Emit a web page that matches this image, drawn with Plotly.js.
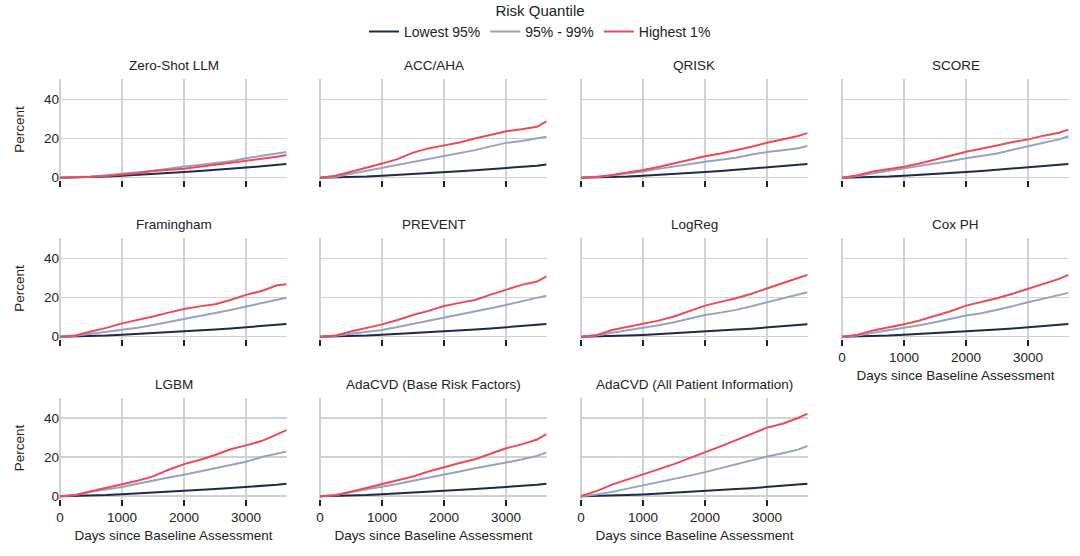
<!DOCTYPE html>
<html>
<head>
<meta charset="utf-8">
<script src="https://cdn.plot.ly/plotly-3.0.1.min.js"></script>
<style>
  html, body { margin: 0; padding: 0; background: #fff; }
  #chart { width: 1080px; height: 556px; }
</style>
</head>
<body>
<div id="chart"></div>
<script>
// days since baseline, shared by every panel
var days = [0, 250, 500, 750, 1000, 1250, 1500, 1750, 2000, 2250, 2500, 2750, 3000, 3250, 3500, 3650];

var models = ["Zero-Shot LLM", "ACC/AHA", "QRISK", "SCORE",
              "Framingham", "PREVENT", "LogReg", "Cox PH",
              "LGBM", "AdaCVD (Base Risk Factors)", "AdaCVD (All Patient Information)"];

var seriesNames = ["Lowest 95%", "95% - 99%", "Highest 1%"];

// cumulative percent, one row per model (same order as models)
var lowest95 = [
  [0, 0.1, 0.3, 0.6, 1.0, 1.4, 1.9, 2.4, 2.9, 3.4, 3.9, 4.5, 5.2, 5.8, 6.5, 7.0],
  [0, 0.1, 0.3, 0.6, 1.0, 1.4, 1.8, 2.3, 2.8, 3.3, 3.8, 4.3, 4.9, 5.5, 6.1, 6.7],
  [0, 0.1, 0.3, 0.6, 1.0, 1.4, 1.9, 2.4, 2.9, 3.4, 4.0, 4.6, 5.2, 5.8, 6.4, 7.0],
  [0, 0.1, 0.3, 0.6, 1.0, 1.4, 1.9, 2.4, 2.9, 3.4, 4.0, 4.6, 5.2, 5.8, 6.4, 7.0],
  [0, 0.1, 0.3, 0.6, 1.0, 1.4, 1.8, 2.2, 2.7, 3.2, 3.7, 4.2, 4.8, 5.3, 5.9, 6.5],
  [0, 0.1, 0.3, 0.6, 1.0, 1.4, 1.8, 2.2, 2.7, 3.2, 3.7, 4.2, 4.8, 5.3, 5.9, 6.5],
  [0, 0.1, 0.3, 0.6, 0.9, 1.3, 1.7, 2.1, 2.6, 3.1, 3.6, 4.1, 4.7, 5.2, 5.8, 6.3],
  [0, 0.1, 0.3, 0.6, 1.0, 1.4, 1.8, 2.2, 2.7, 3.2, 3.7, 4.2, 4.8, 5.3, 5.9, 6.5],
  [0, 0.1, 0.3, 0.6, 1.0, 1.4, 1.8, 2.2, 2.7, 3.2, 3.7, 4.2, 4.7, 5.2, 5.8, 6.4],
  [0, 0.1, 0.3, 0.6, 1.0, 1.4, 1.8, 2.2, 2.7, 3.2, 3.7, 4.2, 4.7, 5.2, 5.8, 6.4],
  [0, 0.1, 0.3, 0.6, 0.9, 1.3, 1.7, 2.1, 2.6, 3.1, 3.6, 4.1, 4.7, 5.2, 5.8, 6.3]
];

var mid95to99 = [
  [0, 0.2, 0.6, 1.2, 1.9, 2.6, 3.5, 4.5, 5.7, 6.5, 7.4, 8.4, 9.9, 11.0, 12.2, 13.1],
  [0, 0.5, 2.0, 3.5, 5.0, 6.6, 8.2, 9.6, 11.2, 12.6, 14.1, 16.0, 17.8, 18.8, 19.9, 20.9],
  [0, 0.3, 1.2, 2.2, 3.1, 4.5, 5.8, 7.0, 8.2, 9.2, 10.2, 11.8, 13.1, 14.0, 15.0, 16.2],
  [0, 0.8, 2.2, 3.4, 4.6, 5.8, 7.1, 8.5, 9.9, 11.2, 12.4, 14.3, 16.2, 17.9, 19.6, 21.2],
  [0, 0.4, 1.5, 2.5, 3.4, 4.6, 6.0, 7.5, 9.0, 10.5, 12.0, 13.6, 15.4, 17.2, 18.8, 19.9],
  [0, 0.4, 1.5, 2.4, 3.4, 4.9, 6.5, 8.0, 9.4, 11.0, 12.8, 14.5, 16.2, 18.0, 19.7, 21.0],
  [0, 0.6, 2.0, 3.2, 4.3, 5.8, 7.4, 9.2, 11.1, 12.3, 13.7, 15.6, 17.6, 19.5, 21.4, 22.7],
  [0, 0.6, 2.0, 3.2, 4.3, 5.8, 7.4, 9.0, 10.8, 12.0, 13.7, 15.6, 17.6, 19.5, 21.2, 22.4],
  [0, 0.6, 2.2, 3.5, 4.7, 6.4, 8.1, 9.5, 11.0, 12.6, 14.3, 15.8, 17.6, 20.0, 21.6, 22.8],
  [0, 0.6, 2.1, 3.4, 4.6, 6.2, 7.9, 9.4, 11.0, 12.6, 14.3, 15.6, 17.2, 18.8, 20.6, 22.4],
  [0, 0.8, 2.2, 3.8, 5.4, 7.1, 8.8, 10.5, 12.3, 14.3, 16.4, 18.3, 20.3, 22.0, 23.8, 25.7]
];

var highest1 = [
  [0, 0.1, 0.4, 0.8, 1.4, 2.3, 3.4, 4.0, 4.6, 5.6, 6.6, 7.6, 8.8, 9.7, 10.7, 11.6],
  [0, 1.0, 3.0, 5.0, 7.2, 9.5, 12.8, 15.0, 16.5, 18.0, 20.0, 22.0, 23.8, 24.8, 26.0, 28.8],
  [0, 0.4, 1.4, 2.6, 3.9, 5.5, 7.3, 9.0, 11.0, 12.4, 14.1, 15.8, 17.9, 19.6, 21.3, 22.8],
  [0, 1.2, 3.1, 4.3, 5.6, 7.2, 9.0, 11.2, 13.3, 14.8, 16.5, 18.2, 19.6, 21.5, 23.0, 24.6],
  [0, 0.6, 2.6, 4.5, 6.8, 8.5, 10.3, 12.3, 14.2, 15.5, 16.6, 18.8, 21.4, 23.4, 26.3, 26.8],
  [0, 0.6, 2.6, 4.4, 6.3, 8.5, 11.1, 13.2, 15.7, 17.3, 18.8, 21.5, 23.9, 26.5, 28.2, 30.8],
  [0, 0.8, 3.4, 5.0, 6.5, 8.2, 10.3, 13.0, 15.9, 17.8, 19.7, 22.0, 24.8, 27.2, 30.0, 31.6],
  [0, 1.0, 3.2, 4.8, 6.3, 8.3, 10.6, 13.0, 15.9, 17.8, 19.7, 22.0, 24.4, 26.8, 29.6, 31.6],
  [0, 0.6, 2.5, 4.3, 6.2, 7.9, 10.1, 13.5, 16.4, 18.5, 21.1, 24.0, 26.0, 28.2, 31.6, 33.8],
  [0, 0.5, 2.3, 4.3, 6.2, 8.0, 10.1, 12.6, 14.9, 17.0, 18.9, 21.8, 24.5, 26.5, 29.0, 31.8],
  [0, 2.6, 5.9, 8.5, 11.3, 13.9, 16.4, 19.5, 22.4, 25.5, 28.7, 32.0, 35.1, 37.1, 40.0, 42.2]
];

var colors = ["#1e2a4a", "#97a2c2", "#ee4a54"];
var font = "Liberation Sans, Arial, Helvetica, sans-serif";

// panel geometry in pixels of the 1080x556 page
var W = 1080, H = 556;
var colLeft = [60, 320, 581, 842];
var colWidth = 227;
var rowTop = [79, 238, 397.5];
var rowHeight = 101;

var data = [];
var layout = {
  width: W,
  height: H,
  margin: { l: 0, r: 0, t: 0, b: 0, autoexpand: false },
  paper_bgcolor: "#fff",
  plot_bgcolor: "#fff",
  font: { family: font, size: 13.5, color: "#222" },
  showlegend: true,
  legend: {
    orientation: "h",
    x: 0.5, xanchor: "center",
    y: 1.0065, yanchor: "top",
    title: { text: "Risk Quantile", side: "top center", font: { size: 15, color: "#222" } },
    font: { size: 14, color: "#222" },
    itemwidth: 30,
    tracegroupgap: 0
  },
  annotations: []
};

var labelled = [7, 8, 9, 10]; // panels with x tick labels and x title

models.forEach(function (name, i) {
  var row = Math.floor(i / 4), col = i % 4;
  var n = i + 1;
  var xa = "xaxis" + (n === 1 ? "" : n);
  var ya = "yaxis" + (n === 1 ? "" : n);
  var xref = "x" + (n === 1 ? "" : n);
  var yref = "y" + (n === 1 ? "" : n);

  var x0 = colLeft[col] / W, x1 = (colLeft[col] + colWidth) / W;
  var y1 = 1 - rowTop[row] / H, y0 = 1 - (rowTop[row] + rowHeight) / H;
  var showX = labelled.indexOf(i) >= 0;

  layout[xa] = {
    domain: [x0, x1],
    anchor: yref,
    range: [0, 3660],
    tickvals: [0, 1000, 2000, 3000],
    showticklabels: showX,
    ticks: "outside",
    ticklen: 6,
    tickwidth: 1.5,
    tickcolor: "#222",
    showgrid: true,
    gridcolor: "#d2d2d2",
    gridwidth: 1.5,
    zeroline: true,
    zerolinecolor: "#d2d2d2",
    zerolinewidth: 1.5,
    showline: false,
    tickfont: { size: 13.5, color: "#222" },
    title: showX ? { text: "Days since Baseline Assessment", font: { size: 13.5, color: "#222" }, standoff: 6 } : { text: "" },
    fixedrange: true
  };
  layout[ya] = {
    domain: [y0, y1],
    anchor: xref,
    range: [-1.2, 50.5],
    tickvals: [0, 20, 40],
    showticklabels: col === 0,
    ticks: "",
    showgrid: true,
    gridcolor: "#d2d2d2",
    gridwidth: 1.5,
    zeroline: true,
    zerolinecolor: "#d2d2d2",
    zerolinewidth: 1.5,
    showline: false,
    tickfont: { size: 13.5, color: "#222" },
    title: col === 0 ? { text: "Percent", font: { size: 13.5, color: "#222" }, standoff: 16 } : { text: "" },
    fixedrange: true
  };

  [lowest95, mid95to99, highest1].forEach(function (series, s) {
    data.push({
      type: "scatter",
      mode: "lines",
      x: days,
      y: series[i],
      xaxis: xref,
      yaxis: yref,
      name: seriesNames[s],
      legendgroup: seriesNames[s],
      showlegend: i === 0,
      line: { color: colors[s], width: 2 },
      hoverinfo: "skip"
    });
  });

  layout.annotations.push({
    text: name,
    xref: "paper", yref: "paper",
    x: (x0 + x1) / 2, y: y1,
    xanchor: "center", yanchor: "bottom",
    yshift: 4,
    showarrow: false,
    font: { size: 13.5, color: "#222" }
  });
});

Plotly.newPlot("chart", data, layout, { displayModeBar: false, staticPlot: true });
</script>
</body>
</html>
